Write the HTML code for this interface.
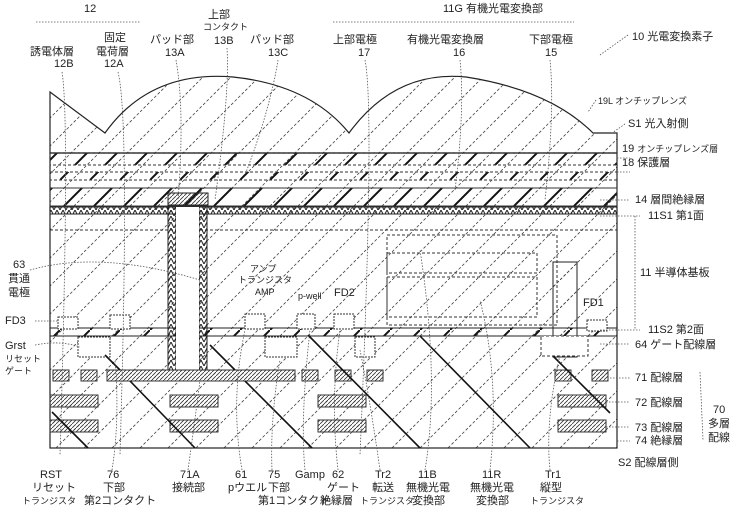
<!DOCTYPE html>
<html><head><meta charset="utf-8"><style>
html,body{margin:0;padding:0;background:#fff;}
svg{display:block;}
text{font-family:"Liberation Sans","Noto Sans CJK JP",sans-serif;font-size:11px;fill:#222;}
.s{font-size:9px;}
.l{fill:none;stroke:#555;stroke-width:0.8;stroke-dasharray:1.5,1.5;}
</style></head><body>
<svg width="750" height="515" viewBox="0 0 750 515" xmlns="http://www.w3.org/2000/svg">
<defs>
<pattern id="h" width="28" height="28" patternUnits="userSpaceOnUse"><path d="M0 28L28 0" stroke="#444" stroke-width="0.8" stroke-dasharray="3,2"/></pattern>
<pattern id="hb" width="30" height="30" patternUnits="userSpaceOnUse"><path d="M0 30L30 0" stroke="#111" stroke-width="2"/></pattern>
<pattern id="hd" width="4" height="4" patternUnits="userSpaceOnUse"><path d="M0 4L4 0" stroke="#333" stroke-width="0.8"/></pattern>
<pattern id="ch" width="6" height="6" patternUnits="userSpaceOnUse"><path d="M0 6L3 0L6 6" stroke="#222" fill="none" stroke-width="1"/></pattern>
</defs>
<rect width="750" height="515" fill="#fff"/>
<!-- lens -->
<path d="M50 92 L105 133 Q150 70 233 77 Q310 85 349 133 Q395 70 466 77 Q550 90 593 133 L617 133 L617 153 L50 153 Z" fill="url(#h)" stroke="#222" stroke-width="1.2"/>
<!-- layers -->
<rect x="50" y="153" width="567" height="295" fill="url(#h)" stroke="#222" stroke-width="1.2"/>
<rect x="50" y="153" width="567" height="12" fill="url(#hb)" stroke="#333" stroke-dasharray="3,2"/>
<rect x="50" y="172" width="567" height="8" fill="url(#hb)" stroke="#333" stroke-dasharray="3,2"/>
<rect x="50" y="188" width="567" height="18" fill="url(#hb)" stroke="#333"/>
<rect x="50" y="207" width="567" height="7" fill="url(#ch)" stroke="#222"/>
<line x1="50" y1="230" x2="617" y2="230" stroke="#333" stroke-dasharray="3,2"/>
<rect x="50" y="328" width="567" height="8" fill="url(#hb)" stroke="#222"/>
<!-- photodiode region -->
<rect x="387" y="235" width="170" height="90" fill="none" stroke="#333" stroke-dasharray="3,2"/>
<rect x="387" y="253" width="150" height="20" fill="none" stroke="#333" stroke-dasharray="3,2"/>
<rect x="387" y="277" width="150" height="40" fill="none" stroke="#333" stroke-dasharray="3,2"/>
<rect x="553" y="262" width="24" height="95" fill="url(#h)" stroke="#222"/>
<rect x="541" y="336" width="47" height="20" fill="#fff" stroke="#333" stroke-dasharray="3,2"/>
<!-- via -->
<rect x="168" y="193" width="40" height="12" fill="url(#hd)" stroke="#222"/>
<rect x="168" y="207" width="8" height="163" fill="url(#ch)" stroke="#222"/>
<rect x="199" y="207" width="8" height="163" fill="url(#ch)" stroke="#222"/>
<rect x="176" y="207" width="23" height="163" fill="#fff" stroke="none"/>
<!-- n+ boxes -->
<g fill="#fff" stroke="#333" stroke-dasharray="2,1">
<rect x="58" y="317" width="20" height="12"/><rect x="110" y="315" width="20" height="14"/>
<rect x="245" y="314" width="20" height="15"/><rect x="297" y="314" width="18" height="15"/>
<rect x="334" y="314" width="20" height="15"/><rect x="587" y="320" width="20" height="11"/>
<rect x="78" y="337" width="32" height="20"/><rect x="265" y="337" width="32" height="20"/>
<rect x="355" y="337" width="20" height="20"/>
</g>
<!-- wiring -->
<g fill="url(#hd)" stroke="#333">
<rect x="53" y="370" width="16" height="11"/><rect x="81" y="370" width="16" height="11"/>
<rect x="107" y="370" width="188" height="11"/>
<rect x="302" y="370" width="16" height="11"/><rect x="335" y="370" width="16" height="11"/>
<rect x="367" y="370" width="16" height="11"/><rect x="555" y="370" width="16" height="11"/>
<rect x="592" y="370" width="16" height="11"/>
<rect x="50" y="395" width="48" height="12"/><rect x="170" y="395" width="48" height="12"/>
<rect x="318" y="395" width="48" height="12"/><rect x="558" y="395" width="48" height="12"/>
<rect x="50" y="420" width="48" height="12"/><rect x="170" y="420" width="48" height="12"/>
<rect x="318" y="420" width="48" height="12"/><rect x="558" y="420" width="48" height="12"/>
</g>
<g stroke="#111" stroke-width="1.6">
<line x1="105" y1="355" x2="120" y2="370"/><line x1="130" y1="381" x2="195" y2="448"/>
<line x1="210" y1="345" x2="235" y2="370"/><line x1="245" y1="381" x2="312" y2="448"/>
<line x1="308" y1="335" x2="420" y2="448"/><line x1="420" y1="336" x2="530" y2="448"/>
<line x1="553" y1="356" x2="610" y2="413"/><line x1="52" y1="412" x2="88" y2="448"/>
</g>
<!-- leader lines -->
<g class="l">
<path d="M36 22 L141 22"/><path d="M333 22 L574 22"/>
<path d="M62 72 Q70 120 60 455"/><path d="M118 72 Q130 120 120 455"/>
<path d="M176 60 Q185 110 178 200"/><path d="M227 48 Q230 90 215 200"/><path d="M278 60 Q270 110 245 175"/>
<path d="M365 60 Q375 110 360 455"/><path d="M460 60 Q465 110 455 190"/><path d="M550 60 Q555 110 545 200"/>
<path d="M628 35 L600 55"/><path d="M596 100 L588 112"/><path d="M625 124 L612 133"/>
<path d="M617 158 L630 158"/><path d="M617 172 L630 172"/><path d="M600 200 L630 200"/>
<path d="M600 216 L640 216"/><path d="M600 330 L640 330"/><path d="M600 344 L630 344"/>
<path d="M610 378 L630 378"/><path d="M606 402 L630 402"/><path d="M606 427 L630 427"/><path d="M617 441 L630 441"/>
<path d="M635 216 L635 330"/><path d="M700 372 L703 440"/>
<path d="M30 270 Q100 250 200 280"/><path d="M35 321 L58 321"/><path d="M35 345 Q60 340 80 347"/>
<path d="M112 470 Q120 420 115 360"/><path d="M188 470 Q195 420 200 380"/><path d="M242 470 Q230 400 245 330"/>
<path d="M272 470 Q270 420 280 360"/><path d="M305 470 Q300 420 310 330"/><path d="M338 470 Q330 400 340 330"/>
<path d="M380 470 Q370 400 360 350"/><path d="M425 470 Q440 380 420 250"/><path d="M490 470 Q500 380 480 300"/>
<path d="M550 470 Q545 420 560 355"/>
</g>
<!-- labels top -->
<text x="84" y="12">12</text>
<text x="208" y="18">上部</text><text x="203" y="30" class="s">コンタクト</text><text x="214" y="44">13B</text>
<text x="443" y="12">11G 有機光電変換部</text>
<text x="632" y="40">10 光電変換素子</text>
<text x="30" y="55">誘電体層</text><text x="54" y="67">12B</text>
<text x="104" y="41">固定</text><text x="96" y="55">電荷層</text><text x="104" y="67">12A</text>
<text x="150" y="43">パッド部</text><text x="165" y="56">13A</text>
<text x="250" y="43">パッド部</text><text x="268" y="56">13C</text>
<text x="333" y="43">上部電極</text><text x="358" y="56">17</text>
<text x="407" y="43">有機光電変換層</text><text x="453" y="56">16</text>
<text x="529" y="43">下部電極</text><text x="545" y="56">15</text>
<text x="598" y="104" class="s">19L オンチップレンズ</text>
<text x="628" y="127">S1 光入射側</text>
<text x="622" y="152">19 <tspan class="s">オンチップレンズ層</tspan></text>
<text x="622" y="166">18 保護層</text>
<text x="635" y="203">14 層間絶縁層</text>
<text x="648" y="219">11S1 第1面</text>
<text x="640" y="276">11 半導体基板</text>
<text x="648" y="333">11S2 第2面</text>
<text x="635" y="348">64 ゲート配線層</text>
<text x="635" y="381">71 配線層</text>
<text x="635" y="406">72 配線層</text>
<text x="635" y="431">73 配線層</text>
<text x="635" y="444">74 絶縁層</text>
<text x="713" y="413">70</text><text x="708" y="427">多層</text><text x="708" y="441">配線</text>
<text x="618" y="466">S2 配線層側</text>
<text x="583" y="306">FD1</text>
<text x="13" y="268">63</text><text x="8" y="282">貫通</text><text x="8" y="296">電極</text>
<text x="5" y="324">FD3</text>
<text x="5" y="349">Grst</text><text x="5" y="362" class="s">リセット</text><text x="5" y="374" class="s">ゲート</text>
<text x="250" y="272" class="s">アンプ</text><text x="238" y="283" class="s">トランジスタ</text><text x="255" y="295" class="s">AMP</text>
<text x="298" y="299" class="s">p-well</text><text x="334" y="296">FD2</text>
<!-- bottom labels -->
<text x="40" y="478">RST</text><text x="32" y="491">リセット</text><text x="22" y="504" class="s">トランジスタ</text>
<text x="107" y="478">76</text><text x="103" y="491">下部</text><text x="84" y="504">第2コンタクト</text>
<text x="180" y="478">71A</text><text x="172" y="491">接続部</text>
<text x="235" y="478">61</text><text x="228" y="491">pウエル</text>
<text x="268" y="478">75</text><text x="268" y="491">下部</text><text x="258" y="504">第1コンタクト</text>
<text x="295" y="478">Gamp</text>
<text x="332" y="478">62</text><text x="327" y="491">ゲート</text><text x="320" y="504">絶縁層</text>
<text x="375" y="478">Tr2</text><text x="372" y="491">転送</text><text x="360" y="504" class="s">トランジスタ</text>
<text x="418" y="478">11B</text><text x="406" y="491">無機光電</text><text x="412" y="504">変換部</text>
<text x="482" y="478">11R</text><text x="470" y="491">無機光電</text><text x="476" y="504">変換部</text>
<text x="545" y="478">Tr1</text><text x="540" y="491">縦型</text><text x="530" y="504" class="s">トランジスタ</text>
</svg>
</body></html>
